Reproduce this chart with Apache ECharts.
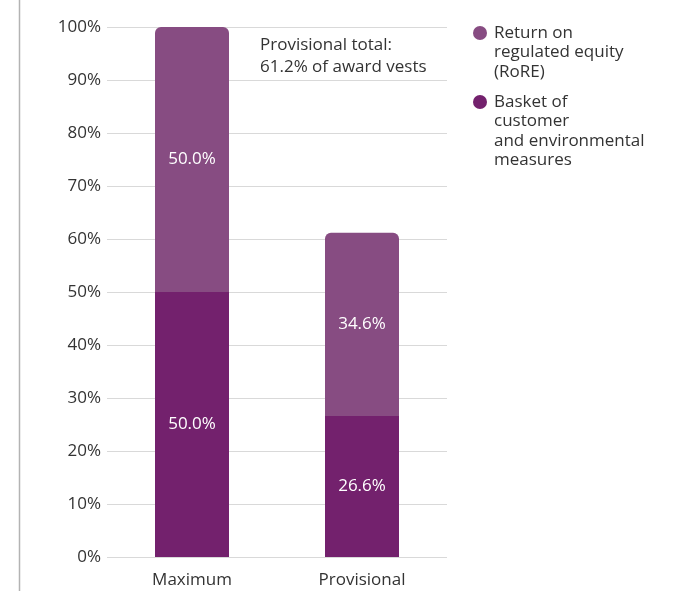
<!DOCTYPE html>
<html>
<head>
<meta charset="utf-8">
<script src="https://cdn.jsdelivr.net/npm/echarts@6/dist/echarts.min.js"></script>
<style>
  html, body { margin: 0; padding: 0; background: #fff; }
  #chart { width: 677px; height: 591px; }
</style>
</head>
<body>
<div id="chart"></div>
<script>
var categories = ['Maximum', 'Provisional'];
var basketValues = [50.0, 26.6];   // Basket of customer and environmental measures
var roreValues = [50.0, 34.6];     // Return on regulated equity (RoRE)
var yTicks = [0, 10, 20, 30, 40, 50, 60, 70, 80, 90, 100];
var noteText = 'Provisional total:\n61.2% of award vests';

var roreColor = '#874c82';
var basketColor = '#73216d';
var font = '"Open Sans", "Noto Sans", sans-serif';

var chart = echarts.init(document.getElementById('chart'));

// legend drawn by hand so the dot sits next to the first line of wrapped text
function legendItem(y, color, text) {
  return [
    { type: 'circle', shape: { cx: 480, cy: y, r: 7 }, style: { fill: color } },
    {
      type: 'text', x: 494, y: y - 10,
      style: { text: text, fill: '#333', font: '17px ' + font, lineHeight: 19.5 }
    }
  ];
}

var option = {
  animation: false,
  textStyle: { fontFamily: font },
  grid: { left: 107, right: 230, top: 27, bottom: 34 },
  xAxis: {
    type: 'category',
    data: categories,
    axisLine: { show: false },
    axisTick: { show: false },
    axisLabel: { fontSize: 17, color: '#333', margin: 15 }
  },
  yAxis: {
    type: 'value',
    min: 0,
    max: 100,
    interval: 10,
    axisLine: { show: false },
    axisTick: { show: false },
    axisLabel: {
      fontSize: 17, color: '#333', margin: 6,
      formatter: function (v) { return yTicks.indexOf(v) >= 0 ? v + '%' : ''; }
    },
    splitLine: { lineStyle: { color: '#d9d9d9', width: 1 } }
  },
  graphic: [
    {
      type: 'line',
      shape: { x1: 19.5, y1: 0, x2: 19.5, y2: 591 },
      style: { stroke: '#b3b3b3', lineWidth: 1.5 }
    },
    {
      type: 'text',
      x: 260,
      y: 34,
      style: { text: noteText, fill: '#333', font: '17px ' + font, lineHeight: 22 }
    }
  ].concat(
    legendItem(33, roreColor, 'Return on\nregulated equity\n(RoRE)'),
    legendItem(102, basketColor, 'Basket of\ncustomer\nand environmental\nmeasures')
  ),
  series: [
    {
      name: 'Basket of customer and environmental measures',
      type: 'bar',
      stack: 'total',
      barWidth: 74,
      data: basketValues,
      itemStyle: { color: basketColor },
      label: {
        show: true, position: 'inside', color: '#fff', fontSize: 17,
        formatter: function (p) { return p.value.toFixed(1) + '%'; }
      }
    },
    {
      name: 'Return on regulated equity (RoRE)',
      type: 'bar',
      stack: 'total',
      barWidth: 74,
      data: roreValues,
      itemStyle: { color: roreColor, borderRadius: [6, 6, 0, 0] },
      label: {
        show: true, position: 'inside', color: '#fff', fontSize: 17,
        formatter: function (p) { return p.value.toFixed(1) + '%'; }
      }
    }
  ]
};

chart.setOption(option);
</script>
</body>
</html>
